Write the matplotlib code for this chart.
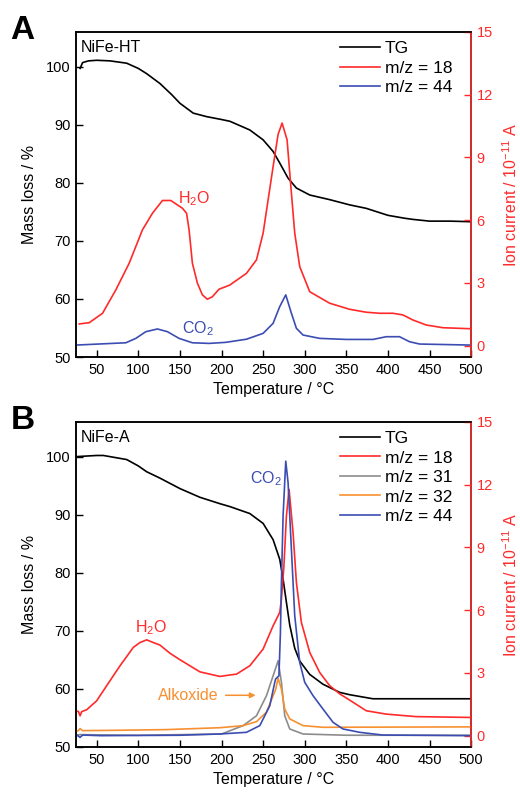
import numpy as np
import matplotlib
matplotlib.use("Agg")
import matplotlib.pyplot as plt

plt.rcParams['font.family'] = ['Liberation Sans', 'DejaVu Sans']
plt.rcParams['mathtext.fontset'] = 'custom'
plt.rcParams['mathtext.rm'] = 'Liberation Sans'
plt.rcParams['mathtext.it'] = 'Liberation Sans'

RED = '#ff2a2a'
BLUE = '#3b4db3'
GRAY = '#8c8c8c'
ORANGE = '#f79030'

# ---- panel A: NiFe-HT ----
a_tg_t = [30, 33, 40, 50, 66, 86, 100, 110, 126, 140, 150, 166, 182, 200, 210, 234,
          250, 262, 270, 280, 290, 306, 330, 354, 374, 400, 420, 430, 450, 475, 500]
a_tg = [99.7, 100.7, 101.0, 101.1, 101.0, 100.6, 99.7, 98.8, 97.1, 95.2, 93.7, 92.0,
        91.4, 90.9, 90.6, 89.1, 87.4, 85.4, 83.4, 80.8, 79.1, 77.9, 77.1, 76.2, 75.6,
        74.4, 73.9, 73.7, 73.4, 73.4, 73.3]

a_h2o_t = [29, 41, 57, 73, 89, 105, 117, 129, 139, 145, 153, 158, 161, 165, 171, 177,
           183, 189, 197, 205, 210, 230, 242, 250, 256, 262, 268, 272.8, 278.8, 283,
           288, 294, 306, 330, 354, 374, 390, 406, 418, 430, 446, 466, 500]
a_h2o = [1.04, 1.10, 1.55, 2.67, 3.94, 5.54, 6.33, 6.94, 6.94, 6.78, 6.57, 6.33, 5.54,
         3.94, 2.99, 2.43, 2.22, 2.34, 2.70, 2.82, 2.90, 3.46, 4.10, 5.38, 6.97, 8.56,
         10.1, 10.64, 9.84, 7.77, 5.38, 3.78, 2.58, 2.03, 1.74, 1.60, 1.55, 1.55, 1.47,
         1.23, 0.99, 0.86, 0.81]

a_co2_t = [25, 85, 97, 109, 123, 135, 149, 165, 185, 205, 230, 250, 262, 270, 277.2,
           284, 290, 298, 318, 350, 382, 398, 414, 426, 438, 500]
a_co2 = [0.03, 0.14, 0.35, 0.67, 0.80, 0.67, 0.35, 0.14, 0.11, 0.16, 0.31, 0.59, 1.07,
         1.87, 2.43, 1.55, 0.83, 0.51, 0.35, 0.30, 0.30, 0.43, 0.43, 0.19, 0.08, 0.03]

# ---- panel B: NiFe-A ----
b_tg_t = [25, 50, 58, 86, 100, 110, 126, 150, 174, 198, 210, 234, 250, 262, 270, 274,
          278, 282, 288, 294, 306, 322, 342, 354, 366, 382, 500]
b_tg = [100.0, 100.2, 100.2, 99.5, 98.4, 97.4, 96.3, 94.5, 93.0, 91.9, 91.4, 90.2,
        88.5, 85.7, 82.3, 78.9, 74.9, 71.0, 67.0, 64.8, 62.5, 60.8, 59.4, 59.0, 58.7,
        58.3, 58.3]

b_h2o_t = [25, 28, 30, 32, 38, 50, 62, 78, 94, 102, 110, 118, 126, 138, 150, 162, 174,
           186, 198, 210, 218, 234, 250, 262, 270, 272, 275, 278, 281.2, 286, 290, 296,
           306, 318, 330, 342, 354, 374, 398, 434, 500]
b_h2o = [1.19, 1.15, 0.95, 1.15, 1.24, 1.67, 2.39, 3.34, 4.22, 4.45, 4.58, 4.45, 4.33,
         3.94, 3.63, 3.34, 3.05, 2.94, 2.83, 2.90, 2.94, 3.34, 4.14, 5.25, 5.89, 6.52,
         8.11, 10.5, 11.77, 9.70, 7.32, 5.41, 3.98, 3.02, 2.39, 2.00, 1.70, 1.19, 1.03,
         0.91, 0.87]

b_m31_t = [25, 30, 100, 200, 226, 242, 254, 262, 268, 272, 276, 282, 298, 350, 500]
b_m31 = [0.02, 0.05, 0.02, 0.08, 0.48, 0.95, 1.91, 2.86, 3.58, 2.55, 0.95, 0.32, 0.08,
         0.02, 0.02]

b_m32_t = [25, 28, 30, 33, 80, 134, 198, 226, 242, 254, 262, 265, 268, 272, 276, 282,
           298, 322, 500]
b_m32 = [0.21, 0.24, 0.34, 0.24, 0.26, 0.29, 0.38, 0.48, 0.67, 1.12, 1.91, 2.20, 2.74,
         2.23, 1.27, 0.80, 0.48, 0.40, 0.42]

b_co2_t = [25, 30, 33, 54, 150, 198, 230, 246, 258, 264, 265, 269, 270.8, 272, 274,
           277.2, 280, 284, 288, 294, 300, 310, 322, 334, 346, 366, 394, 500]
b_co2 = [0.06, -0.08, 0.03, 0.0, 0.02, 0.08, 0.16, 0.48, 1.43, 2.55, 2.71, 2.86, 4.93,
         7.32, 10.5, 13.12, 12.09, 8.91, 5.73, 3.50, 2.55, 1.91, 1.27, 0.64, 0.32, 0.16,
         0.03, 0.0]

xticks = list(range(50, 501, 50))
lticks = [50, 60, 70, 80, 90, 100]
rticks = [0, 3, 6, 9, 12, 15]

fig = plt.figure(figsize=(5.2, 7.96), dpi=100)


def make_panel(rect, letter, name, series, legend_y):
    ax = fig.add_axes(rect)
    ax2 = ax.twinx()
    tg_t, tg = series[0]
    ax.plot(tg_t, tg, color='black', lw=1.2, label='TG')
    handles = [ax.lines[0]]
    for t, v, c, lab in series[1:]:
        h, = ax2.plot(t, v, color=c, lw=1.2, label=lab)
        handles.append(h)
    ax.set_xlim(25, 500)
    ax.set_ylim(50, 106)
    ax2.set_ylim(-0.54, 15)
    ax.set_xticks(xticks)
    ax.set_yticks(lticks)
    ax2.set_yticks(rticks)
    ax.tick_params(direction='in', length=5, width=1, labelsize=10.5, pad=4)
    ax2.tick_params(direction='in', length=5, width=1, labelsize=10.5, pad=4,
                    colors=RED)
    ax2.spines['right'].set_color(RED)
    for sp in ax.spines.values():
        sp.set_linewidth(1.1)
    for sp in ax2.spines.values():
        sp.set_linewidth(1.1)
    ax.set_xlabel('Temperature / °C', fontsize=11.5, labelpad=4)
    ax.set_ylabel('Mass loss / %', fontsize=11.5, labelpad=6)
    ax2.set_ylabel('Ion current / 10$^{-11}$ A', fontsize=11.5, color=RED, labelpad=6)
    ax.text(0.012, 0.975, name, transform=ax.transAxes, fontsize=11.5,
            ha='left', va='top')
    ax2.legend(handles=handles, loc='upper left', bbox_to_anchor=(0.668, legend_y),
               frameon=False, fontsize=12.5, handlelength=2.3, handletextpad=0.3,
               labelspacing=0.25, borderpad=0, borderaxespad=0)
    fig.text(0.02, rect[1] + rect[3] + 0.002, letter, fontsize=24,
             fontweight='bold', ha='left', va='center')
    return ax, ax2


axA, axA2 = make_panel([0.146, 0.5515, 0.76, 0.4085], 'A', 'NiFe-HT',
                       [(a_tg_t, a_tg),
                        (a_h2o_t, a_h2o, RED, 'm/z = 18'),
                        (a_co2_t, a_co2, BLUE, 'm/z = 44')], 0.972)
axA.text(148, 77.3, 'H$_2$O', color=RED, fontsize=11.5, ha='left', va='center')
axA.text(153, 54.9, 'CO$_2$', color=BLUE, fontsize=11.5, ha='left', va='center')

axB, axB2 = make_panel([0.146, 0.0616, 0.76, 0.4085], 'B', 'NiFe-A',
                       [(b_tg_t, b_tg),
                        (b_h2o_t, b_h2o, RED, 'm/z = 18'),
                        (b_m31_t, b_m31, GRAY, 'm/z = 31'),
                        (b_m32_t, b_m32, ORANGE, 'm/z = 32'),
                        (b_co2_t, b_co2, BLUE, 'm/z = 44')], 0.972)
axB.text(234, 96.2, 'CO$_2$', color=BLUE, fontsize=11.5, ha='left', va='center')
axB.text(96, 70.6, 'H$_2$O', color=RED, fontsize=11.5, ha='left', va='center')
axB.text(124, 58.9, 'Alkoxide', color=ORANGE, fontsize=11.5, ha='left', va='center')
axB.annotate('', xy=(241, 58.9), xytext=(205, 58.9),
             arrowprops=dict(arrowstyle='-|>', color=ORANGE, lw=1.1,
                             mutation_scale=8, shrinkA=0, shrinkB=0))

fig.savefig('out.png', dpi=100, facecolor='white')
